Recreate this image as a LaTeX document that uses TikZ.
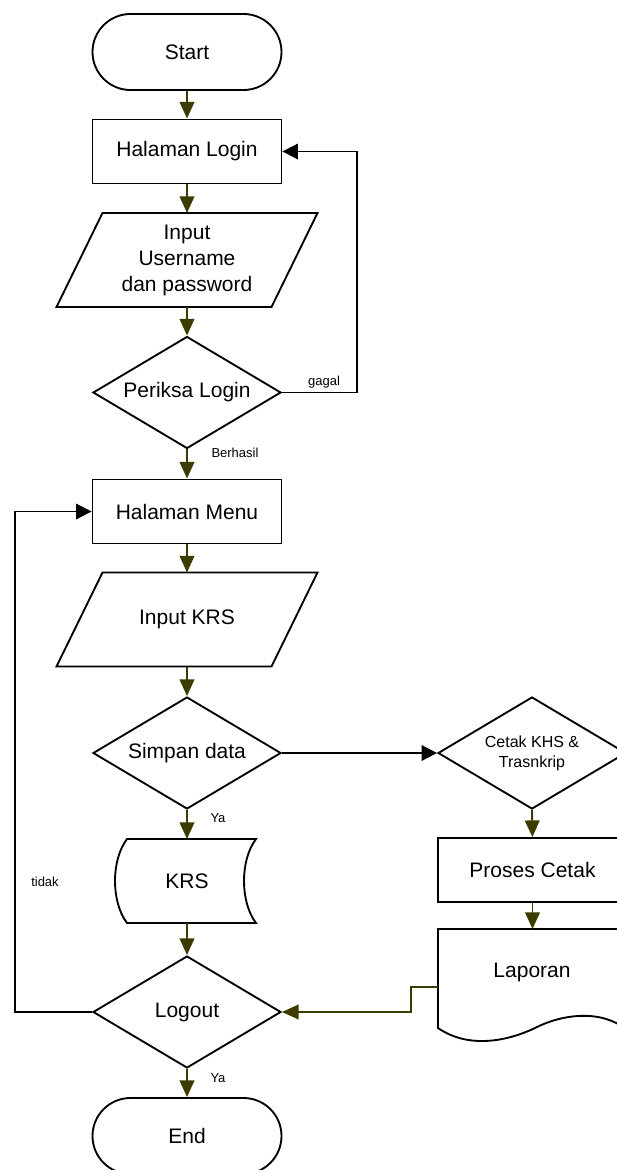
\documentclass[tikz,border=0pt]{standalone}
\usepackage{fontspec}
\setmainfont{Liberation Sans}
\usetikzlibrary{shapes.geometric,arrows.meta}
\definecolor{arrowolive}{RGB}{60,60,0}
\newcommand\mainfs{\fontsize{15.75pt}{19.5pt}\selectfont}
\newcommand\lblfs{\fontsize{9.75pt}{11pt}\selectfont}
\newcommand\midfs{\fontsize{12pt}{15pt}\selectfont}
\begin{document}
\begin{tikzpicture}[x=0.75pt,y=-0.75pt,line width=1.4pt,
  shapebox/.style={draw,line width=1.4pt,inner sep=0pt,font=\mainfs,align=center},
  term/.style={shapebox,rectangle,rounded corners=28.5pt,minimum width=141.75pt,minimum height=57pt},
  procbox/.style={shapebox,rectangle,minimum width=141.75pt,minimum height=48pt},
  decision/.style={shapebox,diamond,aspect=1.7,minimum width=141pt,minimum height=84pt},
  iobox/.style={rectangle,inner sep=0pt,outer sep=0pt,font=\mainfs,align=center,minimum width=195.75pt,minimum height=70.5pt},
  flow/.style={draw=arrowolive,-{Triangle[length=12.5pt,width=11pt]}},
  back/.style={draw=black,-{Triangle[length=11.5pt,width=11.5pt]}},
  lbl/.style={font=\lblfs,inner sep=0pt}]
\useasboundingbox (0,0) rectangle (617,1170);
\clip (0,0) rectangle (617,1170);

% main column
\node[term] (start) at (187,52) {Start};
\node[procbox] (login) at (187,151.5) {Halaman Login};
\node[iobox] (inp1) at (187,260) {Input\\Username\\dan password};
\draw ([xshift=34.5pt]inp1.north west) -- (inp1.north east) -- ([xshift=-34.5pt]inp1.south east) -- (inp1.south west) -- cycle;
\node[decision] (periksa) at (187,392.5) {Periksa Login};
\node[procbox] (menu) at (187,511.5) {Halaman Menu};
\node[iobox] (inp2) at (187,619.5) {Input KRS};
\draw ([xshift=34.5pt]inp2.north west) -- (inp2.north east) -- ([xshift=-34.5pt]inp2.south east) -- (inp2.south west) -- cycle;
\node[decision] (simpan) at (187,753) {Simpan data};
\node[rectangle,inner sep=0pt,outer sep=0pt,font=\mainfs,minimum width=105pt,minimum height=63pt] (krs) at (187,881) {KRS};
\draw (127,839) -- (256,839) .. controls (240,860) and (240,902) .. (256,923) -- (127,923) .. controls (111,902) and (111,860) .. (127,839) -- cycle;
\node[decision] (logout) at (187,1012) {Logout};
\node[term] (end) at (187,1136) {End};

% right column
\node[decision,font=\midfs] (cetak) at (532,753) {Cetak KHS \&\\Trasnkrip};
\node[procbox] (proses) at (532.5,870) {Proses Cetak};
\node[rectangle,inner sep=0pt,outer sep=0pt,minimum width=141.75pt,minimum height=87pt] (lap) at (532.5,987) {};
\draw (438,1028) .. controls (470,1050) and (510,1040) .. (535,1028) .. controls (560,1015) and (600,1008) .. (627,1030) -- (627,929) -- (438,929) -- cycle;
\node[font=\mainfs,inner sep=0pt] (laptxt) at (532,972) {Laporan};

% connectors
\draw[flow] (start.south) -- (login.north);
\draw[flow] (login.south) -- (inp1.north);
\draw[flow] (inp1.south) -- (periksa.north);
\coordinate (gc) at (357,151.5);
\draw[back] (periksa.east) -| (gc) -- (login.east);
\draw[flow] (periksa.south) -- (menu.north);
\draw[flow] (menu.south) -- (inp2.north);
\draw[flow] (inp2.south) -- (simpan.north);
\draw[back] (simpan.east) -- (cetak.west);
\draw[flow] (simpan.south) -- (krs.north);
\draw[flow] (krs.south) -- (logout.north);
\coordinate (tc) at (15,511.5);
\draw[back] (logout.west) -| (tc) -- (menu.west);
\draw[flow] (logout.south) -- (end.north);
\draw[flow] (cetak.south) -- (proses.north);
\draw[flow] (proses.south) -- (lap.north);
\coordinate (lc) at (411,987);
\draw[flow] (lap.west) -- (lc) |- (logout.east);

% labels
\node[lbl] (lgagal) at (324,382) {gagal};
\node[lbl] (lberhasil) at (235,453) {Berhasil};
\node[lbl] (lya1) at (218,818) {Ya};
\node[lbl] (ltidak) at (45,882) {tidak};
\node[lbl] (lya2) at (218,1078) {Ya};
\end{tikzpicture}
\end{document}
